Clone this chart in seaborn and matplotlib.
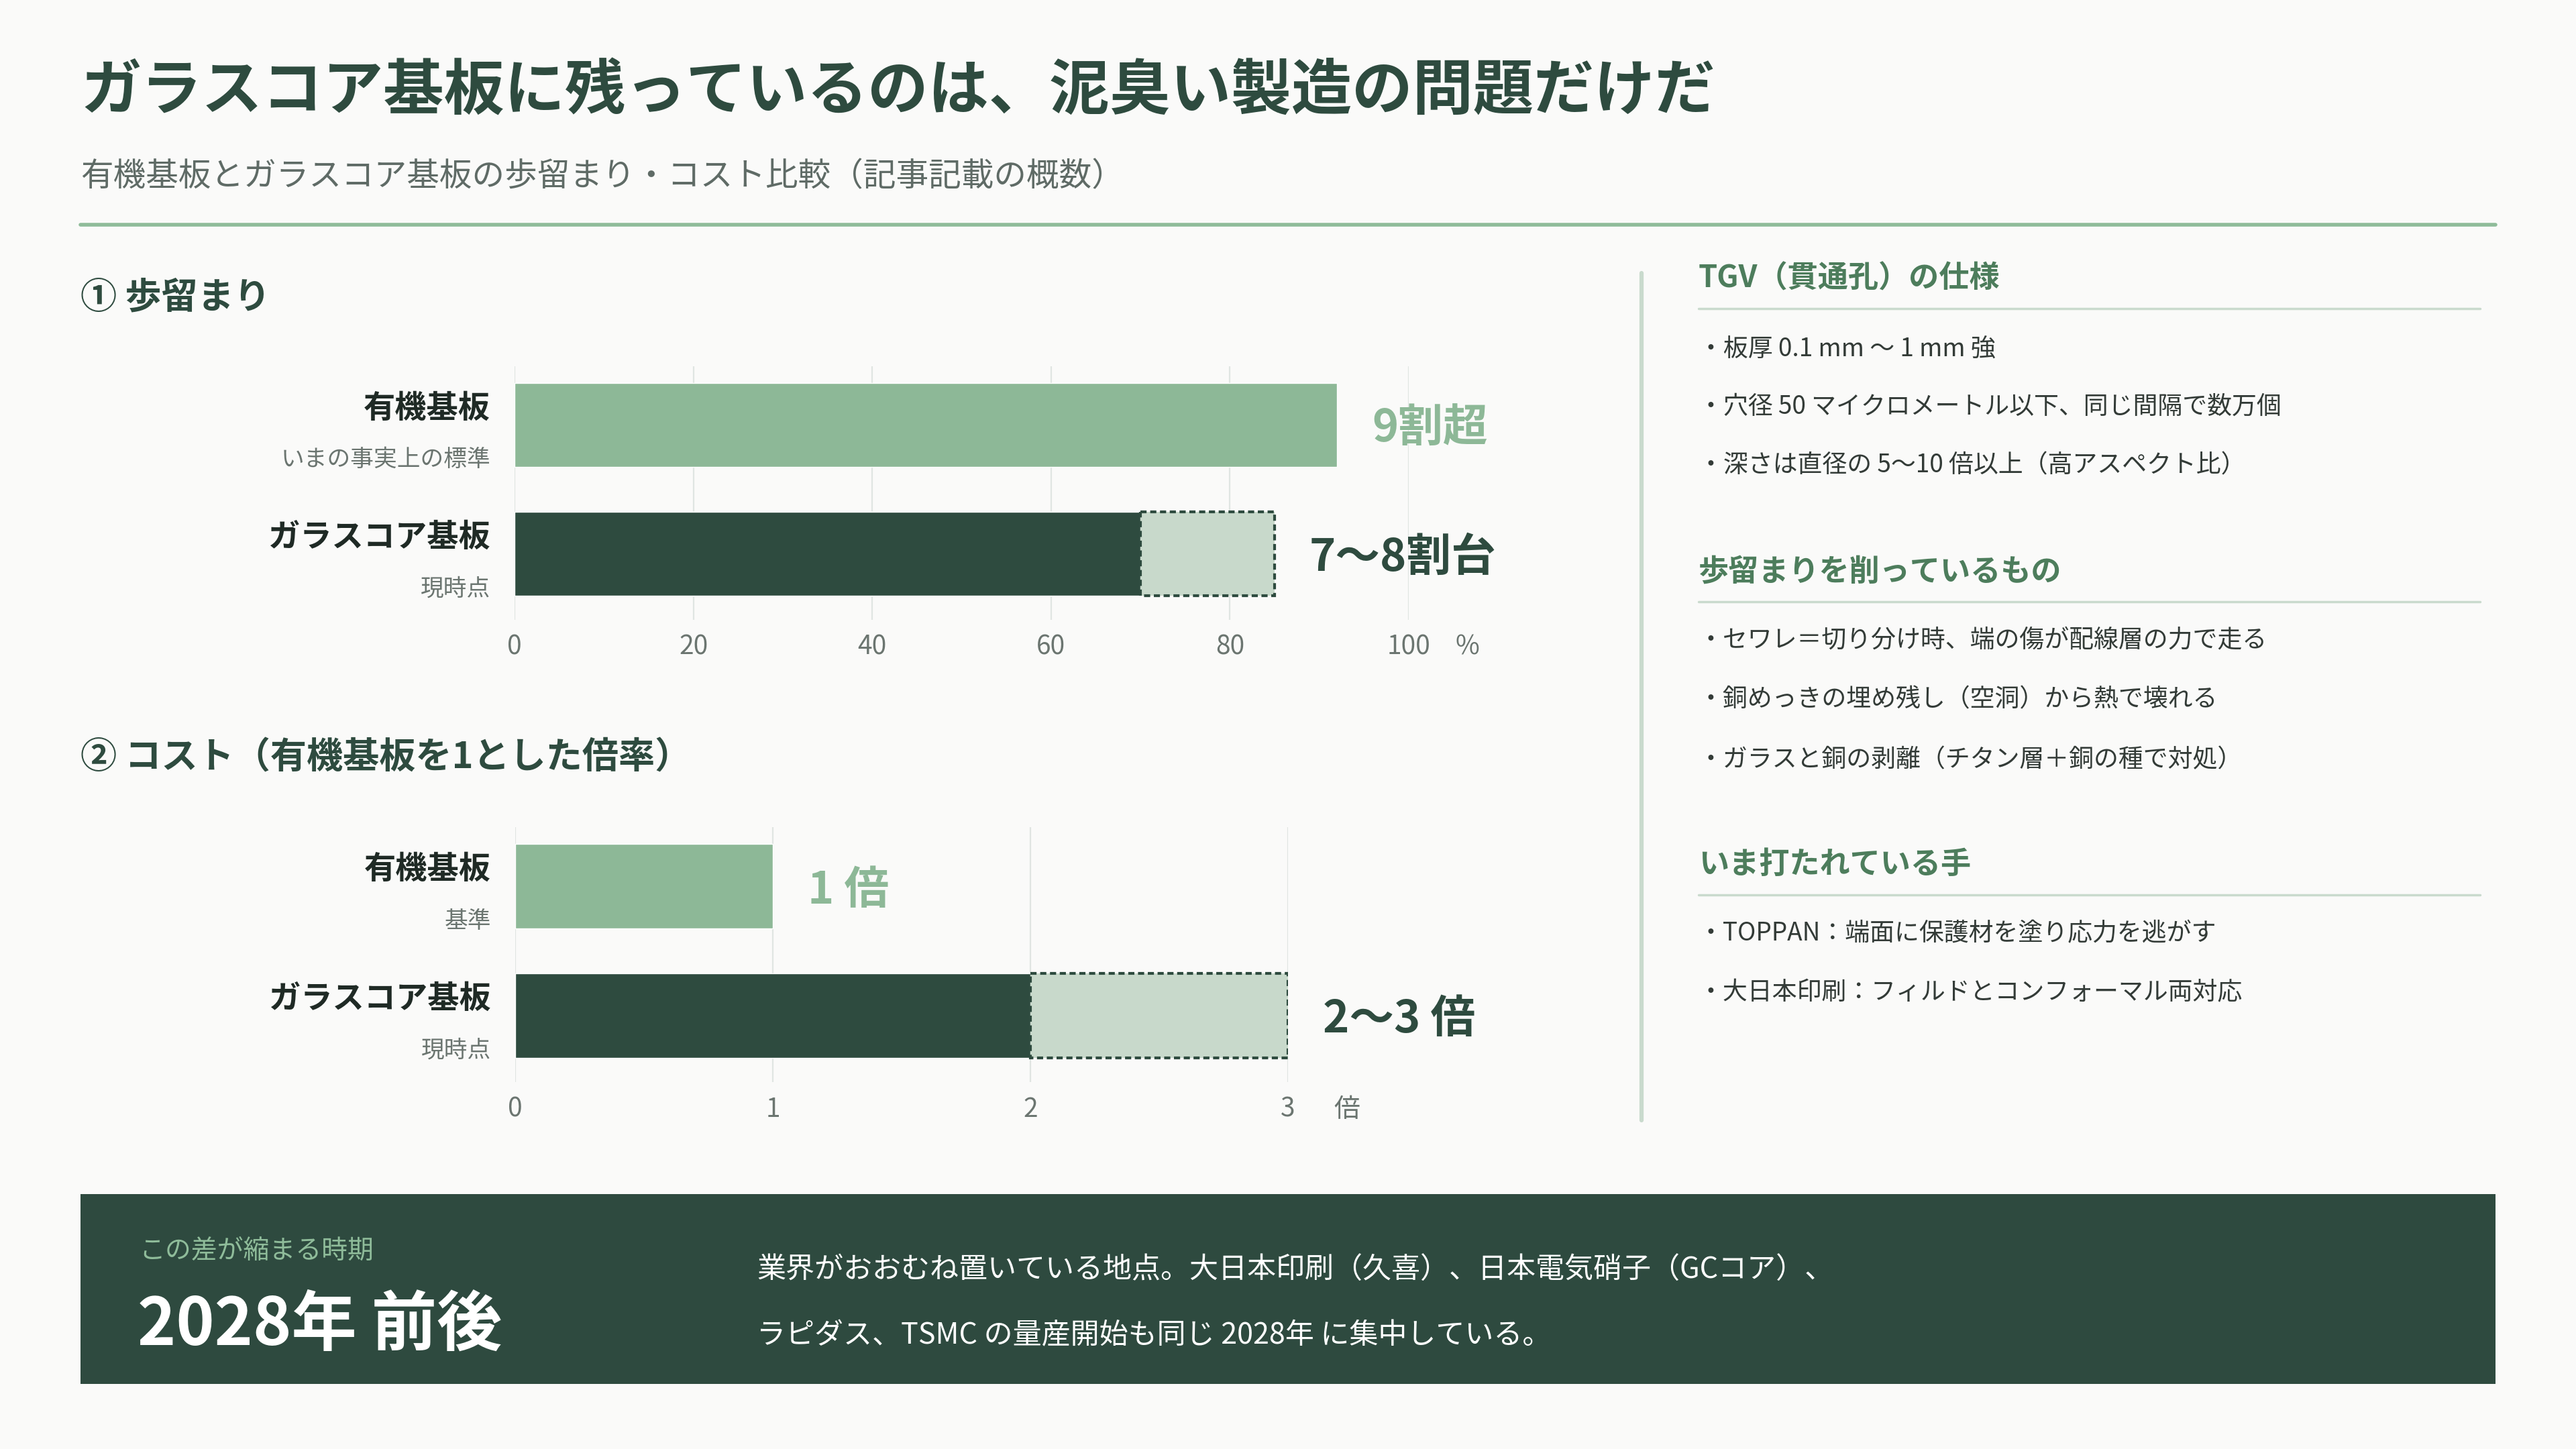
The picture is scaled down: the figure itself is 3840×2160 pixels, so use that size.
import matplotlib
matplotlib.use("Agg")
import matplotlib.pyplot as plt
import matplotlib.transforms as mtransforms
from matplotlib.patches import Rectangle
from matplotlib.lines import Line2D
import seaborn as sns
import pandas as pd

# ---------------- data ----------------
categories = ["有機基板", "ガラスコア基板"]
yield_sub = ["いまの事実上の標準", "現時点"]
yield_low = [92, 70]
yield_high = [92, 85]
yield_labels = ["9割超", "7〜8割台"]
yield_ticks = [0, 20, 40, 60, 80, 100]

cost_sub = ["基準", "現時点"]
cost_low = [1, 2]
cost_high = [1, 3]
cost_labels = ["1 倍", "2〜3 倍"]
cost_ticks = [0, 1, 2, 3]

title = "ガラスコア基板に残っているのは、泥臭い製造の問題だけだ"
subtitle = "有機基板とガラスコア基板の歩留まり・コスト比較（記事記載の概数）"
sec1 = "① 歩留まり"
sec2 = "② コスト（有機基板を1とした倍率）"

side_heads = ["TGV（貫通孔）の仕様", "歩留まりを削っているもの", "いま打たれている手"]
side_items = [
    ["・板厚 0.1 mm 〜 1 mm 強",
     "・穴径 50 マイクロメートル以下、同じ間隔で数万個",
     "・深さは直径の 5〜10 倍以上（高アスペクト比）"],
    ["・セワレ＝切り分け時、端の傷が配線層の力で走る",
     "・銅めっきの埋め残し（空洞）から熱で壊れる",
     "・ガラスと銅の剥離（チタン層＋銅の種で対処）"],
    ["・TOPPAN：端面に保護材を塗り応力を逃がす",
     "・大日本印刷：フィルドとコンフォーマル両対応"],
]
banner_small = "この差が縮まる時期"
banner_big = "2028年 前後"
banner_text = ["業界がおおむね置いている地点。大日本印刷（久喜）、日本電気硝子（GCコア）、",
               "ラピダス、TSMC の量産開始も同じ 2028年 に集中している。"]

# ---------------- style ----------------
BG = "#fafaf9"
DARK = "#2e4b3f"
LIGHT = "#8db897"
RANGE = "#c8d9cb"
GRID = "#e0e5e2"
GRAY = "#6b7570"
TEXT = "#333b37"
MID = "#4d7d5c"
LINEC = "#c9dacd"

sns.set_theme(style="white")
plt.rcParams["font.family"] = ["Noto Sans CJK JP", "DejaVu Sans"]

W, H = 3840, 2160
DY = 6  # vertical text correction in px
fig = plt.figure(figsize=(W / 100, H / 100), dpi=100, facecolor=BG)


def fx(px):
    return px / W


def fy(py):
    return 1 - (py + DY) / H


# header
fig.text(fx(120), fy(131), title, fontsize=65, fontweight="bold", color=DARK, va="center", ha="left")
fig.text(fx(120), fy(258), subtitle, fontsize=35, color="#5f6b66", va="center", ha="left")
fig.add_artist(Line2D([fx(120), fx(3720)], [1 - 335 / H, 1 - 335 / H], transform=fig.transFigure,
                      color="#8fbc9a", lw=4))

fig.text(fx(120), fy(438), sec1, fontsize=39, fontweight="bold", color=DARK, va="center", ha="left")
fig.text(fx(120), fy(1124), sec2, fontsize=39, fontweight="bold", color=DARK, va="center", ha="left")

OFF = DY / 100  # inches


def draw_chart(ax, low, high, labels, subs, ticks, unit, xmax, unit_dx):
    df = pd.DataFrame({"cat": categories, "val": low})
    sns.barplot(data=df, x="val", y="cat", hue="cat", palette=[LIGHT, DARK], orient="h",
                width=0.65, saturation=1, legend=False, ax=ax, zorder=3)
    for i, (lo, hi) in enumerate(zip(low, high)):
        if hi > lo:
            ax.barh(i, hi - lo, left=lo, height=0.65, facecolor=RANGE, edgecolor=DARK,
                    linestyle=(0, (2.2, 1.3)), linewidth=3, zorder=4)
    ax.set_xlim(0, xmax)
    ax.set_ylim(1.513, -0.456)
    ax.set_facecolor(BG)
    for s in ax.spines.values():
        s.set_visible(False)
    ax.set_xticks(ticks)
    ax.set_xticklabels([str(t) for t in ticks])
    ax.set_yticks([])
    ax.set_xlabel("")
    ax.set_ylabel("")
    ax.tick_params(axis="x", length=0, pad=15, labelsize=28, labelcolor=GRAY)
    ax.grid(axis="x", color=GRID, lw=1.6, zorder=0)
    ax.grid(axis="y", visible=False)
    ax.set_axisbelow(True)
    # category labels
    lt = mtransforms.blended_transform_factory(ax.transAxes, ax.transData) + \
        mtransforms.ScaledTranslation(-0.36, -OFF, fig.dpi_scale_trans)
    for i, (c, s) in enumerate(zip(categories, subs)):
        ax.text(0, i - 0.16, c, transform=lt, ha="right", va="center", fontsize=34,
                fontweight="bold", color="#1f2a25")
        ax.text(0, i + 0.24, s, transform=lt, ha="right", va="center", fontsize=25, color=GRAY)
    # value labels
    vt = ax.transData + mtransforms.ScaledTranslation(0.52, -OFF, fig.dpi_scale_trans)
    for i, (hi, lab) in enumerate(zip(high, labels)):
        ax.text(hi, i, lab, transform=vt, ha="left", va="center", fontsize=48,
                fontweight="bold", color=LIGHT if i == 0 else DARK, clip_on=False)
    # unit next to last tick label
    ut = mtransforms.blended_transform_factory(ax.transAxes, ax.transAxes) + \
        mtransforms.ScaledTranslation(unit_dx, -15 / 72, fig.dpi_scale_trans)
    ax.text(1, 0, unit, transform=ut, ha="center", va="top", fontsize=28, color=GRAY)


ax1 = fig.add_axes([767 / W, 1 - 924 / H, (2100 - 767) / W, (924 - 546) / H])
draw_chart(ax1, yield_low, yield_high, yield_labels, yield_sub, yield_ticks, "%", 100, 0.87)
ax2 = fig.add_axes([768 / W, 1 - 1613 / H, (1920 - 768) / W, (1613 - 1233) / H])
draw_chart(ax2, cost_low, cost_high, cost_labels, cost_sub, cost_ticks, "倍", 3, 0.88)

# divider
fig.add_artist(Line2D([2447 / W, 2447 / W], [1 - 407 / H, 1 - 1670 / H], transform=fig.transFigure,
                      color=LINEC, lw=4.5))

# side panel
head_y = [409, 847, 1283]
line_y = [460, 897, 1334]
item_y = [[514, 600, 688], [948, 1037, 1127], [1386, 1474]]
for hd, hy, ly, items, iys in zip(side_heads, head_y, line_y, side_items, item_y):
    fig.text(fx(2532), fy(hy), hd, fontsize=32.5, fontweight="bold", color=MID, va="center", ha="left")
    fig.add_artist(Line2D([fx(2532), fx(3697)], [1 - ly / H, 1 - ly / H], transform=fig.transFigure,
                          color=LINEC, lw=2.5))
    for it, iy in zip(items, iys):
        fig.text(fx(2532), fy(iy), it, fontsize=26.6, color=TEXT, va="center", ha="left")

# banner
fig.add_artist(Rectangle((120 / W, 1 - 2063 / H), (3720 - 120) / W, (2063 - 1780) / H,
                         transform=fig.transFigure, facecolor="#2e4a3f", edgecolor="none"))
fig.text(fx(207), fy(1859), banner_small, fontsize=28, color="#8fbc9a", va="center", ha="left")
fig.text(fx(205), fy(1970), banner_big, fontsize=70, fontweight="bold", color="white", va="center", ha="left")
fig.text(fx(1128), fy(1888), banner_text[0], fontsize=31, color="white", va="center", ha="left")
fig.text(fx(1128), fy(1985), banner_text[1], fontsize=31, color="white", va="center", ha="left")

fig.savefig("out.png", dpi=100, facecolor=BG)
